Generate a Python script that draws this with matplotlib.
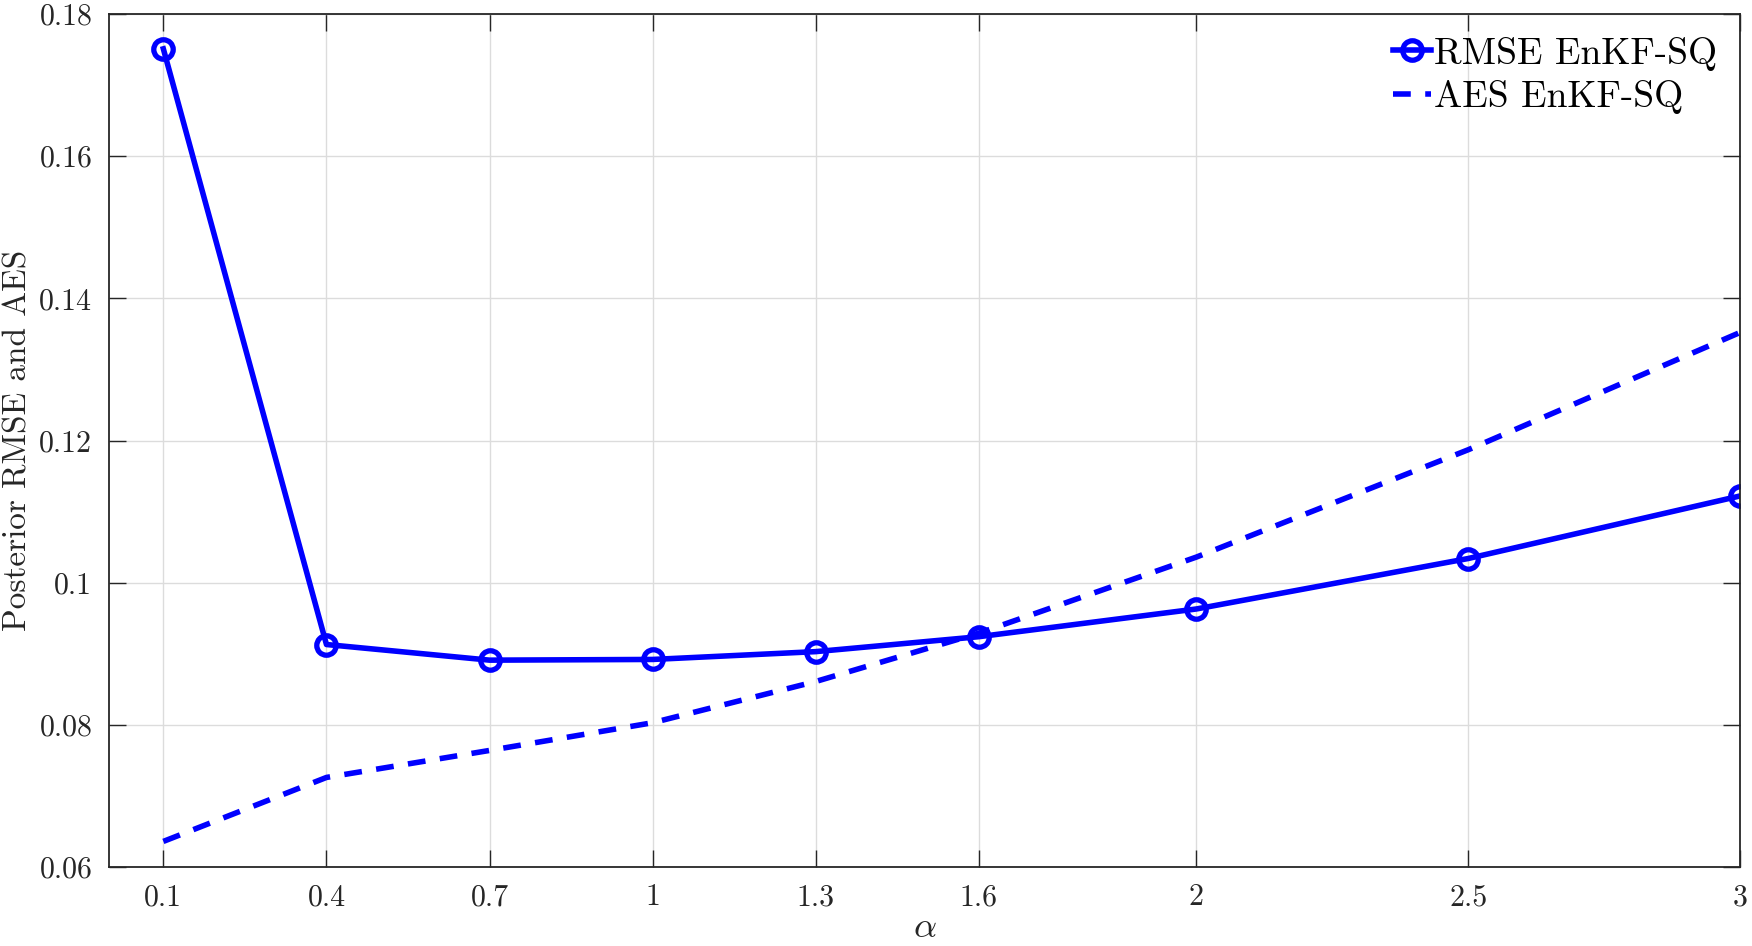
import matplotlib
matplotlib.use("Agg")
import matplotlib.pyplot as plt

plt.rcParams['font.family'] = ['cmr10', 'DejaVu Serif']
plt.rcParams['mathtext.fontset'] = 'cm'
plt.rcParams['axes.unicode_minus'] = False
plt.rcParams['axes.formatter.use_mathtext'] = True

alpha = [0.1, 0.4, 0.7, 1.0, 1.3, 1.6, 2.0, 2.5, 3.0]
rmse = [0.1751, 0.0913, 0.0891, 0.0892, 0.0903, 0.0924, 0.0963, 0.1034, 0.1122]
aes = [0.0636, 0.0726, 0.0764, 0.0803, 0.0861, 0.0929, 0.1036, 0.1187, 0.1352]
xtick_labels = ['0.1', '0.4', '0.7', '1', '1.3', '1.6', '2', '2.5', '3']
yticks = [0.06, 0.08, 0.10, 0.12, 0.14, 0.16, 0.18]
ytick_labels = ['0.06', '0.08', '0.1', '0.12', '0.14', '0.16', '0.18']

fig = plt.figure(figsize=(17.52, 9.46), dpi=100)
ax = fig.add_axes([0.0622, 0.0835, 0.9310, 0.9017])

ax.plot(alpha, rmse, '-', color='#0000FF', lw=4.0, marker='o', ms=14,
        mfc='none', mew=3.8, label='RMSE EnKF-SQ')
ax.plot(alpha, aes, color='#0000FF', lw=4.0, linestyle=(0, (3.2, 2.6)),
        label='AES EnKF-SQ')

ax.set_xlim(0, 3)
ax.set_ylim(0.06, 0.18)
ax.set_xticks(alpha)
ax.set_xticklabels(xtick_labels)
ax.set_yticks(yticks)
ax.set_yticklabels(ytick_labels)

ax.grid(True, color='#dcdcdc', lw=1.0)
ax.set_axisbelow(True)
ax.tick_params(direction='in', length=12, width=1.0, labelsize=21.5,
               colors='#262626', top=True, right=True, pad=12)
for s in ax.spines.values():
    s.set_color('#262626')
    s.set_linewidth(1.3)

ax.set_xlabel(r'$\alpha$', fontsize=26, color='#262626', labelpad=1)
ax.set_ylabel('Posterior RMSE and AES', fontsize=24, color='#262626', labelpad=5)

leg = ax.legend(loc='upper right', frameon=False, fontsize=27,
                handlelength=1.0, handletextpad=0.1, borderaxespad=0.2,
                labelspacing=0.25)

fig.savefig('out.png', dpi=100)
